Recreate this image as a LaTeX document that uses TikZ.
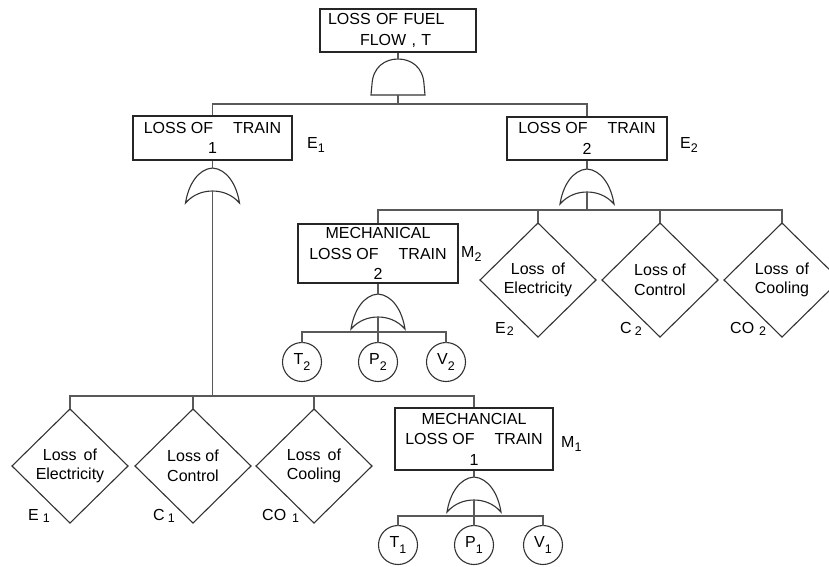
\documentclass[tikz,border=0pt]{standalone}
\usepackage{fontspec}
\setmainfont{Liberation Sans}
\usetikzlibrary{shapes.geometric}
\newcommand\lsub[2][4pt]{\raisebox{-#1}{\fontsize{12.5}{12.5}\selectfont #2}}
\newcommand\trgap{\hspace{20pt}}
\tikzset{
  conn/.style={draw=black!65, line width=1.1pt},
  gateline/.style={draw=black!80, line width=1.1pt, fill=white},
  orgate/.pic={
    \draw[gateline] (-27,35) .. controls (-24,16) and (-14,1) .. (0,0)
      .. controls (14,1) and (24,16) .. (27,35)
      .. controls (19,26) and (9,23) .. (0,23)
      .. controls (-9,23) and (-19,26) .. (-27,35) -- cycle;
    \coordinate (-top) at (0,0);
    \coordinate (-in) at (0,23);
  },
  andgate/.pic={
    \draw[gateline] (-27,36) -- (-26,25) .. controls (-25,8) and (-13,0) .. (0,0)
      .. controls (13,0) and (25,8) .. (26,25) -- (27,36) -- cycle;
    \coordinate (-top) at (0,0);
    \coordinate (-bot) at (0,36);
  },
  evbox/.style={draw=black!85, line width=1.1pt, rectangle, inner sep=0pt, align=center,
    text=black, font=\fontsize{16}{20.5}\selectfont},
  basic/.style={draw=black!80, line width=1.1pt, diamond, inner sep=0pt, outer sep=0pt,
    minimum width=116pt, minimum height=114pt, align=center, text=black,
    font=\fontsize{16}{19.5}\selectfont},
  leaf/.style={draw=black!80, line width=1.1pt, circle, inner sep=0pt, outer sep=0pt,
    minimum size=39pt, text=black, font=\fontsize{16}{16}\selectfont},
  tag/.style={inner sep=0pt, anchor=base west, text=black, font=\fontsize{16}{16}\selectfont}
}
\begin{document}
\begin{tikzpicture}[x=1pt,y=-1pt]
\useasboundingbox (0,0) rectangle (829,566);

% events
\node[evbox, minimum width=156pt, minimum height=43pt, text width=140pt, align=left] (T) at (398,30.5)
  {LOSS OF FUEL\\\hspace*{32pt}FLOW , T};
\node[evbox, minimum width=159pt, minimum height=44pt] (E1) at (212.5,138) {LOSS OF\trgap TRAIN\\1};
\node[evbox, minimum width=160pt, minimum height=43pt] (E2) at (587,138.5) {LOSS OF\trgap TRAIN\\2};
\node[evbox, minimum width=160pt, minimum height=59pt] (M2) at (378,253.5) {MECHANICAL\\LOSS OF\trgap TRAIN\\2};
\node[evbox, minimum width=158pt, minimum height=62pt] (M1) at (474,439) {MECHANCIAL\\LOSS OF\trgap TRAIN\\1};

% tags
\node[tag] (lE1) at (307,148) {E\lsub{1}};
\node[tag] (lE2) at (680,148) {E\lsub{2}};
\node[tag] (lM2) at (461,257) {M\lsub{2}};
\node[tag] (lM1) at (561,447) {M\lsub{1}};

% basic events
\node[basic] (dE2) at (538,280) {Loss\hspace{7pt}of\\Electricity};
\node[basic] (dC2) at (660,280) {Loss of\\Control};
\node[basic] (dCO2) at (782,280) {Loss\hspace{7pt}of\\Cooling};
\node[basic] (dE1) at (70,466) {Loss\hspace{7pt}of\\Electricity};
\node[basic] (dC1) at (193,466) {Loss of\\Control};
\node[basic] (dCO1) at (314,466) {Loss\hspace{7pt}of\\Cooling};

\node[tag] (tE2) at (495,333) {E\hspace{1pt}\lsub[2pt]{2}};
\node[tag] (tC2) at (620,333) {C\hspace{3pt}\lsub[2pt]{2}};
\node[tag] (tCO2) at (730,333) {CO\hspace{5pt}\lsub[2pt]{2}};
\node[tag] (tE1) at (28,520) {E\hspace{4pt}\lsub[2pt]{1}};
\node[tag] (tC1) at (153,520) {C\hspace{3pt}\lsub[2pt]{1}};
\node[tag] (tCO1) at (262,520) {CO\hspace{6pt}\lsub[2pt]{1}};

% circles
\node[leaf] (T2) at (302,362) {T\lsub[6pt]{2}};
\node[leaf] (P2) at (378,362) {P\lsub[6pt]{2}};
\node[leaf] (V2) at (446,362) {V\lsub[6pt]{2}};
\node[leaf] (T1) at (398,545) {T\lsub[6pt]{1}};
\node[leaf] (P1) at (474,545) {P\lsub[6pt]{1}};
\node[leaf] (V1) at (543,545) {V\lsub[6pt]{1}};

% gates
\pic (gT) at (398,59) {andgate};
\pic (gE1) at (212.5,168) {orgate};
\pic (gE2) at (587,169) {orgate};
\pic (gM2) at (378,294) {orgate};
\pic (gM1) at (474,477) {orgate};

% junctions
\coordinate (j0) at (398,104);
\coordinate (j1) at (212.5,396);
\coordinate (j2) at (587,210);
\coordinate (j3) at (378,332);
\coordinate (j4) at (474,516);

% connectors
\draw[conn] (T.south) -- (gT-top);
\draw[conn] (gT-bot) -- (j0);
\draw[conn] (E1.north) |- (j0) -| (E2.north);

\draw[conn] (E1.south) -- (gE1-top);
\draw[conn] (gE1-in) -- (j1);
\draw[conn] (dE1.north) |- (j1) -| (M1.north);
\draw[conn] (dC1.north) -- (dC1.north |- j1);
\draw[conn] (dCO1.north) -- (dCO1.north |- j1);

\draw[conn] (E2.south) -- (gE2-top);
\draw[conn] (gE2-in) -- (j2);
\draw[conn] (M2.north) |- (j2) -| (dCO2.north);
\draw[conn] (dE2.north) -- (dE2.north |- j2);
\draw[conn] (dC2.north) -- (dC2.north |- j2);

\draw[conn] (M2.south) -- (gM2-top);
\draw[conn] (gM2-in) -- (j3);
\draw[conn] (T2.north) |- (j3) -| (V2.north);
\draw[conn] (P2.north) -- (j3);

\draw[conn] (M1.south) -- (gM1-top);
\draw[conn] (gM1-in) -- (j4);
\draw[conn] (T1.north) |- (j4) -| (V1.north);
\draw[conn] (P1.north) -- (j4);
\end{tikzpicture}
\end{document}
